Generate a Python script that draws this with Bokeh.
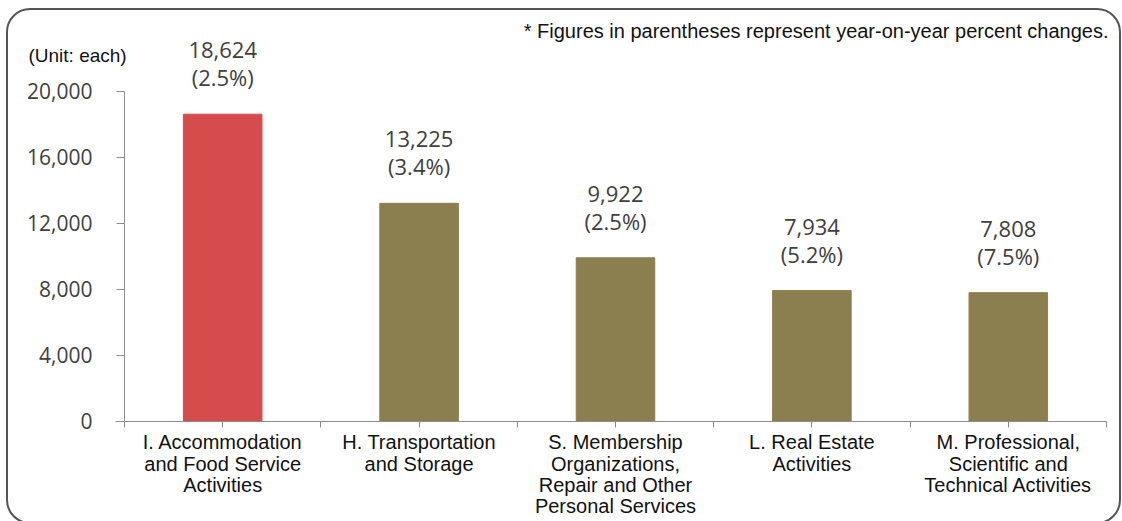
from bokeh.plotting import figure
from bokeh.models import (Range1d, LinearAxis, FixedTicker, ColumnDataSource,
                          Label, NumeralTickFormatter)
from bokeh.core.properties import value
from bokeh.embed import file_html
from bokeh.resources import INLINE

categories = [
    "I. Accommodation\nand Food Service\nActivities",
    "H. Transportation\nand Storage",
    "S. Membership\nOrganizations,\nRepair and Other\nPersonal Services",
    "L. Real Estate\nActivities",
    "M. Professional,\nScientific and\nTechnical Activities",
]
counts = [18624, 13225, 9922, 7934, 7808]
changes = [2.5, 3.4, 2.5, 5.2, 7.5]
bar_colors = ["#D64B4C", "#8B7F50", "#8B7F50", "#8B7F50", "#8B7F50"]
y_ticks = [0, 4000, 8000, 12000, 16000, 20000]
note_text = "* Figures in parentheses represent year-on-year percent changes."
unit_text = "(Unit: each)"

NUM_FONT = "Open Sans"
LBL_FONT = "Liberation Sans"

# category slots: category i occupies [i, i+1] on the x scale
centres = [i + 0.5 for i in range(len(categories))]
edges = [float(i) for i in range(len(categories) + 1)]

src = ColumnDataSource(dict(
    x=centres,
    count=counts,
    color=bar_colors,
    count_lbl=[f"{c:,}" for c in counts],
    pct_lbl=[f"({v}%)" for v in changes],
))

p = figure(
    x_range=Range1d(-0.6314, 5.0815),
    y_range=Range1d(-6061, 25515),
    width=1122, height=521,
    x_axis_type=None, y_axis_type=None,
    output_backend="svg", toolbar_location=None,
    min_border_left=0, min_border_right=0, min_border_top=0, min_border_bottom=0,
)
p.outline_line_color = None
p.grid.visible = False
p.background_fill_color = "white"
p.border_fill_color = "white"
p.stylesheets = [
    ":host { position: relative; overflow: hidden; }"
    ":host::after { content: ''; position: absolute; left: 6px; top: 8px; right: 1px; bottom: -3px;"
    " border: 2px solid #555555; border-radius: 24px; pointer-events: none; box-sizing: border-box; }"
]

p.vbar(x="x", top="count", width=0.4, color="color", source=src)

p.text(x="x", y="count", text="count_lbl", source=src, y_offset=-64,
       text_align="center", text_baseline="middle",
       text_font=value(NUM_FONT), text_font_size="22px", text_color="#404040")
p.text(x="x", y="count", text="pct_lbl", source=src, y_offset=-37,
       text_align="center", text_baseline="middle",
       text_font=value(NUM_FONT), text_font_size="22px", text_color="#404040")

# y axis, drawn at the left edge of the first category slot
yax = LinearAxis(ticker=FixedTicker(ticks=y_ticks, minor_ticks=[]),
                 formatter=NumeralTickFormatter(format="0,0"), bounds=(0, 20000),
                 fixed_location=0)
yax.axis_line_color = "#8C8C8C"
yax.major_tick_line_color = "#8C8C8C"
yax.major_tick_out = 8
yax.major_tick_in = 0
yax.minor_tick_line_color = None
yax.major_label_standoff = 24
yax.major_label_text_font = NUM_FONT
yax.major_label_text_font_size = "21px"
yax.major_label_text_color = "#404040"
p.add_layout(yax, "left")

# x axis at value 0: labels at category centres, boundary ticks as minor ticks
xax = LinearAxis(ticker=FixedTicker(ticks=centres, minor_ticks=edges), bounds=(-0.045, 5),
                 fixed_location=0)
xax.major_label_overrides = {c: cat for c, cat in zip(centres, categories)}
xax.axis_line_color = "#8C8C8C"
xax.major_tick_line_color = "#8C8C8C"
xax.minor_tick_line_color = "#8C8C8C"
xax.major_tick_out = 6
xax.major_tick_in = 0
xax.minor_tick_out = 6
xax.minor_tick_in = 0
xax.major_label_standoff = 4
xax.major_label_text_font = LBL_FONT
xax.major_label_text_font_size = "20px"
xax.major_label_text_line_height = 0.96
xax.major_label_text_color = "#111111"
p.add_layout(xax, "below")

p.add_layout(Label(x=1108, y=491, x_units="screen", y_units="screen", text=note_text,
                   text_align="right", text_baseline="middle",
                   text_font=LBL_FONT, text_font_size="20px", text_color="#111111"))
p.add_layout(Label(x=28, y=466, x_units="screen", y_units="screen", text=unit_text,
                   text_align="left", text_baseline="middle",
                   text_font=LBL_FONT, text_font_size="19px", text_color="#111111"))

open("out.html", "w").write(file_html(p, INLINE))
